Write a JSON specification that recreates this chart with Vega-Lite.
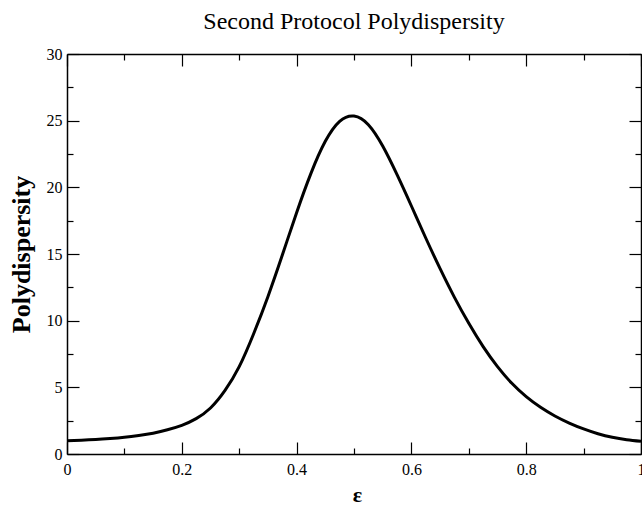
{
  "$schema": "https://vega.github.io/schema/vega-lite/v6.json",
  "width": 574,
  "height": 400,
  "autosize": "none",
  "padding": {"left": 67, "top": 54, "right": 1, "bottom": 52},
  "background": "white",
  "title": {
    "text": "Second Protocol Polydispersity",
    "font": "Liberation Serif",
    "fontSize": 24,
    "fontWeight": "normal",
    "color": "black",
    "anchor": "middle",
    "offset": 12
  },
  "config": {
    "view": {"stroke": null},
    "axis": {
      "domainColor": "black",
      "domainWidth": 1.5,
      "tickColor": "black",
      "tickWidth": 1.2,
      "labelFont": "Liberation Serif",
      "labelFontSize": 16,
      "labelColor": "black",
      "titleFont": "Liberation Serif",
      "titleColor": "black",
      "grid": false
    }
  },
  "data": {
    "values": [
      {"eps": 0.000, "p": 1.00},
      {"eps": 0.025, "p": 1.03},
      {"eps": 0.050, "p": 1.08},
      {"eps": 0.075, "p": 1.16},
      {"eps": 0.100, "p": 1.26},
      {"eps": 0.125, "p": 1.39},
      {"eps": 0.150, "p": 1.56},
      {"eps": 0.175, "p": 1.82},
      {"eps": 0.200, "p": 2.15},
      {"eps": 0.225, "p": 2.65},
      {"eps": 0.250, "p": 3.45},
      {"eps": 0.275, "p": 4.75},
      {"eps": 0.300, "p": 6.55},
      {"eps": 0.325, "p": 9.00},
      {"eps": 0.350, "p": 11.80},
      {"eps": 0.375, "p": 14.90},
      {"eps": 0.400, "p": 18.10},
      {"eps": 0.425, "p": 21.05},
      {"eps": 0.450, "p": 23.45},
      {"eps": 0.475, "p": 24.95},
      {"eps": 0.500, "p": 25.35},
      {"eps": 0.525, "p": 24.70},
      {"eps": 0.550, "p": 23.10},
      {"eps": 0.575, "p": 20.95},
      {"eps": 0.600, "p": 18.60},
      {"eps": 0.625, "p": 16.20},
      {"eps": 0.650, "p": 13.90},
      {"eps": 0.675, "p": 11.75},
      {"eps": 0.700, "p": 9.80},
      {"eps": 0.725, "p": 8.05},
      {"eps": 0.750, "p": 6.55},
      {"eps": 0.775, "p": 5.30},
      {"eps": 0.800, "p": 4.30},
      {"eps": 0.825, "p": 3.50},
      {"eps": 0.850, "p": 2.85},
      {"eps": 0.875, "p": 2.32},
      {"eps": 0.900, "p": 1.88},
      {"eps": 0.925, "p": 1.52},
      {"eps": 0.950, "p": 1.25},
      {"eps": 0.975, "p": 1.07},
      {"eps": 1.000, "p": 0.95}
    ]
  },
  "layer": [
    {
      "mark": {"type": "line", "color": "black", "strokeWidth": 3, "interpolate": "natural", "clip": true},
      "encoding": {
        "x": {
          "field": "eps", "type": "quantitative",
          "scale": {"domain": [0, 1], "nice": false, "zero": false},
          "axis": {
            "orient": "bottom", "values": [0, 0.2, 0.4, 0.6, 0.8, 1], "format": "~g",
            "tickSize": -12, "labelPadding": 19, "labelFlush": false,
            "title": "ε", "titleFontSize": 22, "titleFontWeight": "bold",
            "titleX": 290, "titleY": 47, "titleBaseline": "alphabetic", "titleAlign": "center"
          }
        },
        "y": {
          "field": "p", "type": "quantitative",
          "scale": {"domain": [0, 30], "nice": false},
          "axis": {
            "orient": "left", "values": [0, 5, 10, 15, 20, 25, 30],
            "tickSize": -12, "labelPadding": 17, "labelFlush": false,
            "title": "Polydispersity", "titleFontSize": 26, "titleFontWeight": "bold",
            "titleAngle": -90, "titleX": -38, "titleY": 200, "titleBaseline": "alphabetic", "titleAlign": "center"
          }
        }
      }
    },
    {
      "mark": {"type": "point", "opacity": 0},
      "encoding": {
        "x": {
          "field": "eps", "type": "quantitative",
          "scale": {"domain": [0, 1], "nice": false, "zero": false},
          "axis": {"orient": "top", "values": [0, 0.2, 0.4, 0.6, 0.8, 1], "tickSize": -12, "labels": false, "title": null}
        },
        "y": {
          "field": "p", "type": "quantitative",
          "scale": {"domain": [0, 30], "nice": false},
          "axis": {"orient": "right", "values": [0, 5, 10, 15, 20, 25, 30], "tickSize": -12, "labels": false, "title": null}
        }
      }
    },
    {
      "mark": {"type": "point", "opacity": 0},
      "encoding": {
        "x": {
          "field": "eps", "type": "quantitative",
          "scale": {"domain": [0, 1], "nice": false, "zero": false},
          "axis": {"orient": "bottom", "values": [0.1, 0.3, 0.5, 0.7, 0.9], "tickSize": -6, "labels": false, "domain": false, "title": null}
        },
        "y": {
          "field": "p", "type": "quantitative",
          "scale": {"domain": [0, 30], "nice": false},
          "axis": {"orient": "left", "values": [2.5, 7.5, 12.5, 17.5, 22.5, 27.5], "tickSize": -6, "labels": false, "domain": false, "title": null}
        }
      }
    },
    {
      "mark": {"type": "point", "opacity": 0},
      "encoding": {
        "x": {
          "field": "eps", "type": "quantitative",
          "scale": {"domain": [0, 1], "nice": false, "zero": false},
          "axis": {"orient": "top", "values": [0.1, 0.3, 0.5, 0.7, 0.9], "tickSize": -6, "labels": false, "domain": false, "title": null}
        },
        "y": {
          "field": "p", "type": "quantitative",
          "scale": {"domain": [0, 30], "nice": false},
          "axis": {"orient": "right", "values": [2.5, 7.5, 12.5, 17.5, 22.5, 27.5], "tickSize": -6, "labels": false, "domain": false, "title": null}
        }
      }
    }
  ],
  "resolve": {"axis": {"x": "independent", "y": "independent"}}
}
